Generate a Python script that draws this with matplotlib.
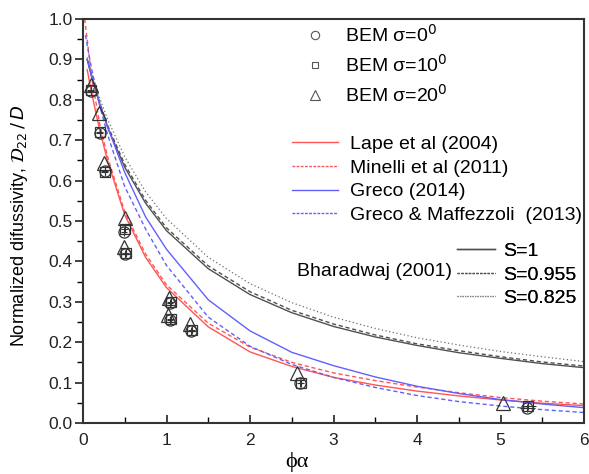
import matplotlib
matplotlib.use("Agg")
import matplotlib.pyplot as plt
from matplotlib.lines import Line2D
from matplotlib.ticker import MultipleLocator, FormatStrFormatter

plt.rcParams['font.family'] = ['Liberation Sans', 'DejaVu Sans']
plt.rcParams['mathtext.fontset'] = 'dejavusans'

# ---------------- data ----------------
x_curve = [0.05, 0.1, 0.2, 0.3, 0.5, 0.75, 1.0, 1.5, 2.0, 2.5, 3.0, 3.5, 4.0, 4.5, 5.0, 5.5, 6.0]

lape_y = [0.875, 0.820, 0.725, 0.645, 0.515, 0.410, 0.335, 0.238, 0.176, 0.140, 0.113, 0.094, 0.079, 0.067, 0.057, 0.049, 0.043]

minelli_x = [0.02, 0.05, 0.1, 0.2, 0.3, 0.5, 0.75, 1.0, 1.5, 2.0, 2.5, 3.0, 3.5, 4.0, 4.5, 5.0, 5.5, 6.0]
minelli_y = [1.0, 0.95, 0.86, 0.74, 0.655, 0.522, 0.418, 0.342, 0.247, 0.188, 0.150, 0.124, 0.105, 0.089, 0.075, 0.063, 0.054, 0.047]

greco_y = [0.90, 0.86, 0.79, 0.73, 0.62, 0.51, 0.43, 0.305, 0.228, 0.175, 0.142, 0.114, 0.091, 0.073, 0.058, 0.047, 0.038]

gm_x = [0.03, 0.05, 0.1, 0.2, 0.3, 0.5, 0.75, 1.0, 1.5, 2.0, 2.5, 3.0, 3.5, 4.0, 4.5, 5.0, 5.5, 6.0]
gm_y = [0.96, 0.935, 0.88, 0.785, 0.71, 0.585, 0.48, 0.39, 0.262, 0.19, 0.145, 0.113, 0.088, 0.068, 0.053, 0.042, 0.033, 0.026]

bhar_s1_y = [0.900, 0.860, 0.789, 0.729, 0.633, 0.544, 0.476, 0.382, 0.318, 0.273, 0.239, 0.213, 0.192, 0.174, 0.160, 0.147, 0.137]
bhar_s0955_y = [0.901, 0.862, 0.793, 0.734, 0.640, 0.551, 0.483, 0.389, 0.325, 0.279, 0.245, 0.218, 0.196, 0.179, 0.164, 0.151, 0.141]
bhar_s0825_y = [0.905, 0.869, 0.804, 0.749, 0.659, 0.572, 0.506, 0.410, 0.345, 0.298, 0.262, 0.234, 0.211, 0.193, 0.177, 0.164, 0.152]

bem0_x = [0.09, 0.20, 0.26, 0.49, 0.50, 1.04, 1.04, 1.29, 2.60, 5.32]
bem0_y = [0.822, 0.717, 0.625, 0.474, 0.418, 0.298, 0.256, 0.228, 0.098, 0.036]
bem10_x = [0.09, 0.20, 0.26, 0.50, 0.51, 1.05, 1.05, 1.30, 2.61, 5.33]
bem10_y = [0.825, 0.720, 0.622, 0.480, 0.420, 0.300, 0.258, 0.230, 0.100, 0.042]
bem20_x = [0.09, 0.19, 0.255, 0.50, 0.49, 1.03, 1.02, 1.28, 2.56, 5.03]
bem20_y = [0.836, 0.767, 0.643, 0.507, 0.436, 0.310, 0.268, 0.244, 0.124, 0.049]
bem_xerr = [0.04, 0.04, 0.04, 0.04, 0.04, 0.04, 0.04, 0.04, 0.04, 0.09]
bem_yerr = [0.01] * 10

labels_bem = ['BEM σ=0$^0$', 'BEM σ=10$^0$', 'BEM σ=20$^0$']
labels_models = ['Lape et al (2004)', 'Minelli et al (2011)', 'Greco (2014)', 'Greco & Maffezzoli  (2013)']
labels_bhar = ['S=1', 'S=0.955', 'S=0.825']

# ---------------- figure ----------------
fig = plt.figure(figsize=(5.89, 4.74), dpi=100)
ax = fig.add_axes([83 / 589, 1 - 423 / 474, 501 / 589, 404 / 474])

red = '#ff5555'
blue = '#6060ff'
gray = '#505050'

ax.plot(x_curve, bhar_s1_y, color=gray, lw=1.0, ls='-')
ax.plot(x_curve, bhar_s0955_y, color=gray, lw=1.0, ls=(0, (3, 2)))
ax.plot(x_curve, bhar_s0825_y, color='#707070', lw=0.9, ls=(0, (1, 2)))
ax.plot(x_curve, lape_y, color=red, lw=1.0, ls='-')
ax.plot(minelli_x, minelli_y, color=red, lw=1.0, ls=(0, (3, 2)))
ax.plot(x_curve, greco_y, color=blue, lw=1.0, ls='-')
ax.plot(gm_x, gm_y, color=blue, lw=1.0, ls=(0, (3, 2)))

mk = dict(mfc='none', mec='#333333', ms=8, mew=0.9, ecolor='#333333', elinewidth=0.8, ls='none', capsize=0)
ax.errorbar(bem0_x, bem0_y, xerr=bem_xerr, yerr=bem_yerr, marker='o', **mk)
ax.errorbar(bem10_x, bem10_y, xerr=bem_xerr, yerr=bem_yerr, marker='s', **dict(mk, ms=7))
ax.errorbar(bem20_x, bem20_y, marker='^', **dict(mk, ms=10))

ax.set_xlim(0, 6)
ax.set_ylim(0, 1.0)
ax.xaxis.set_major_locator(MultipleLocator(1))
ax.xaxis.set_minor_locator(MultipleLocator(0.5))
ax.yaxis.set_major_locator(MultipleLocator(0.1))
ax.yaxis.set_minor_locator(MultipleLocator(0.05))
ax.yaxis.set_major_formatter(FormatStrFormatter('%.1f'))
ax.tick_params(axis='x', which='major', direction='in', length=6, width=1.2, labelsize=12.5, pad=7, colors='#222222')
ax.tick_params(axis='x', which='minor', direction='in', length=4, width=1.0)
ax.tick_params(axis='y', which='major', direction='out', length=5.5, width=1.2, labelsize=12.5, pad=2, colors='#222222')
ax.tick_params(axis='y', which='minor', direction='out', length=4, width=1.0)
for s in ax.spines.values():
    s.set_linewidth(1.5)
    s.set_color('#333333')

ax.set_xlabel('ϕα', family=['Liberation Serif', 'DejaVu Serif'], fontsize=16)
ax.xaxis.set_label_coords(0.427, -0.072)
ax.set_ylabel(r'Normalized difussivity, $\mathcal{D}_{22}\,/\,D$', fontsize=13)
ax.yaxis.set_label_coords(-0.106, 0.488)

# legends
FS = 14
h_bem = [Line2D([], [], marker=m, mfc='none', mec='#555555', ms=s, ls='none', mew=0.8)
         for m, s in (('o', 6), ('s', 5), ('^', 7))]
leg1 = ax.legend(h_bem, labels_bem, loc='upper left', bbox_to_anchor=(0.428, 1.008), frameon=False,
                 fontsize=FS, labelspacing=0.43, handlelength=1.0, handletextpad=1.05, borderaxespad=0.0)
ax.add_artist(leg1)

h_mod = [Line2D([], [], color=red, lw=1.0), Line2D([], [], color=red, lw=1.0, ls=(0, (2, 1))),
         Line2D([], [], color=blue, lw=1.0), Line2D([], [], color=blue, lw=1.0, ls=(0, (2, 1)))]
leg2 = ax.legend(h_mod, labels_models, loc='upper left', bbox_to_anchor=(0.401, 0.731), frameon=False,
                 fontsize=FS, labelspacing=0.31, handlelength=2.37, handletextpad=0.62, borderaxespad=0.0)
ax.add_artist(leg2)

h_bh = [Line2D([], [], color=gray, lw=1.0), Line2D([], [], color=gray, lw=0.9, ls=(0, (2, 1))),
        Line2D([], [], color='#808080', lw=0.9, ls=(0, (1, 1)))]
leg3 = ax.legend(h_bh, labels_bhar, loc='upper left', bbox_to_anchor=(0.731, 0.466), frameon=False,
                 fontsize=FS, labelspacing=0.3, handlelength=1.96, handletextpad=0.41, borderaxespad=0.0)
ax.add_artist(leg3)
ax.text(0.427, 0.376, 'Bharadwaj (2001)', transform=ax.transAxes, fontsize=FS, va='center', ha='left')

fig.savefig('out.png', dpi=100)
